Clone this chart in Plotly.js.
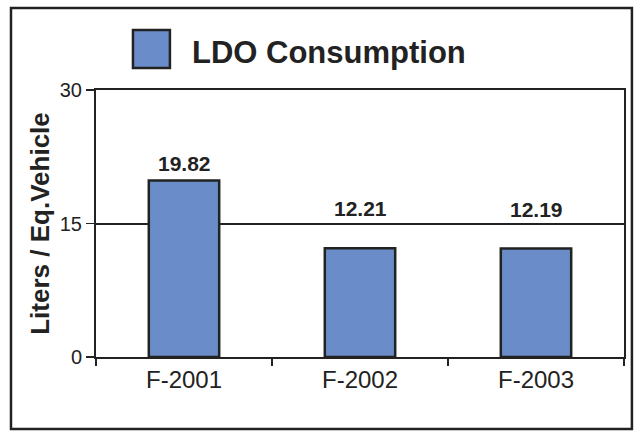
<!DOCTYPE html>
<html>
<head>
<meta charset="utf-8">
<script src="https://cdn.plot.ly/plotly-3.0.1.min.js"></script>
<style>html,body{margin:0;padding:0;background:#fff;}#chart{width:639px;height:436px;}</style>
</head>
<body>
<div id="chart"></div>
<script>
const categories = ["F-2001", "F-2002", "F-2003"];
const consumption = [19.82, 12.21, 12.19];
const labels = ["19.82", "12.21", "12.19"];
const seriesName = "LDO Consumption";
const yTicks = [0, 15, 30];

const FONT = "Arial, 'Liberation Sans', sans-serif";
const BAR = "#6A8CC8";
const INK = "#222222";
// label offsets (px) above each bar, as placed in the original chart
const LABEL_SHIFT = [4, 26, 26];

const trace = {
  type: "bar",
  x: categories,
  y: consumption,
  name: seriesName,
  marker: {color: BAR, line: {color: INK, width: 2.5}},
  width: 0.4,
  showlegend: false
};

const valueLabels = categories.map((c, i) => ({
  x: c, y: consumption[i], xref: "x", yref: "y",
  text: labels[i], showarrow: false, yanchor: "bottom", yshift: LABEL_SHIFT[i],
  font: {family: FONT, size: 21, color: INK, weight: "bold"}
}));

const layout = {
  width: 639, height: 436,
  margin: {l: 96, r: 15, t: 90, b: 79},
  paper_bgcolor: "#fff", plot_bgcolor: "#fff",
  font: {family: FONT, color: INK},
  xaxis: {
    type: "category",
    showline: true, linecolor: INK, linewidth: 2, mirror: true,
    ticks: "outside", tickson: "boundaries", ticklen: 7, tickwidth: 1.2, tickcolor: INK,
    tickfont: {family: FONT, size: 24, color: INK},
    showgrid: false, zeroline: false
  },
  yaxis: {
    range: [0, 30], tickvals: yTicks, ticktext: yTicks.map(String),
    showline: true, linecolor: INK, linewidth: 2, mirror: true,
    ticks: "outside", ticklen: 8, tickwidth: 1.2, tickcolor: INK,
    tickfont: {family: FONT, size: 20, color: INK},
    showgrid: true, gridcolor: INK, gridwidth: 2, zeroline: false,
    title: {text: "Liters / Eq.Vehicle", font: {family: FONT, size: 26, color: INK, weight: "bold"}, standoff: 3}
  },
  shapes: [
    {type: "rect", xref: "paper", yref: "paper", x0: -0.161, x1: 1.015, y0: -0.27, y1: 1.307,
     line: {color: INK, width: 2.5}, fillcolor: "rgba(0,0,0,0)", layer: "above"},
    {type: "rect", xref: "paper", yref: "paper", x0: 0.070, x1: 0.140, y0: 1.082, y1: 1.225,
     line: {color: INK, width: 2.5}, fillcolor: BAR}
  ],
  annotations: valueLabels.concat([
    {xref: "paper", yref: "paper", x: 0.178, y: 1.142, xanchor: "left", yanchor: "middle",
     text: seriesName, showarrow: false, font: {family: FONT, size: 31, color: INK, weight: "bold"}}
  ])
};

Plotly.newPlot("chart", [trace], layout, {displayModeBar: false, staticPlot: true});
</script>
</body>
</html>
